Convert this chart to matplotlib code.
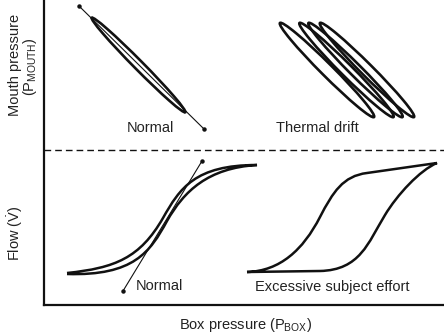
import matplotlib

matplotlib.use("Agg")
import matplotlib.pyplot as plt
from matplotlib.patches import Ellipse, PathPatch
from matplotlib.path import Path

plt.rcParams["font.family"] = ["Liberation Sans", "DejaVu Sans"]
plt.rcParams["mathtext.fontset"] = "custom"
plt.rcParams["mathtext.rm"] = "Liberation Sans"
plt.rcParams["mathtext.it"] = "Liberation Sans:italic"

INK = "#111111"
TEXT = "#222222"

# --- pressure loops (upper half): ellipse centre, length, width, angle
normal_p_centre = (94.5, 240)
normal_p_size = (133, 9)
normal_p_angle = -45.3
normal_p_line_x = [35, 160]
normal_p_line_y = [299, 176]

drift_centre_x = [283, 302.5, 311.5, 323]
drift_centre_y = 235
drift_size = (133, 12)
drift_angle = -45

# --- flow loops (lower half): cubic bezier vertices (x, y)
normal_flow_xy = [
    (23, 32),
    (71, 37), (96, 47), (119, 87),
    (136, 117), (151, 140), (213, 140),
    (164, 137), (140, 114), (123, 84),
    (106, 53), (90, 29), (23, 31),
]
normal_flow_codes = [Path.MOVETO] + [Path.CURVE4] * 12
normal_flow_line_x = [79, 158]
normal_flow_line_y = [14, 144]

effort_flow_xy = [
    (203, 33),
    (236, 34), (259, 55), (276, 88),
    (289, 113), (299, 129), (323, 132),
    (393, 142),
    (376, 135), (353, 110), (341, 90),
    (324, 62), (316, 35), (276, 34),
    (203, 33),
]
effort_flow_codes = ([Path.MOVETO] + [Path.CURVE4] * 6 + [Path.LINETO]
                     + [Path.CURVE4] * 6 + [Path.LINETO])

divider_y = 155

fig = plt.figure(figsize=(4.44, 3.34), dpi=100)
ax = fig.add_axes([44 / 444, 29 / 334, 400 / 444, 305 / 334])
ax.set_xlim(0, 400)
ax.set_ylim(0, 305)
ax.set_xticks([])
ax.set_yticks([])
for side in ("top", "right"):
    ax.spines[side].set_visible(False)
for side in ("left", "bottom"):
    ax.spines[side].set_linewidth(1.6)
    ax.spines[side].set_color(INK)

# upper half: mouth pressure vs box pressure
ax.add_patch(Ellipse(normal_p_centre, *normal_p_size, angle=normal_p_angle,
                     fill=False, lw=1.9, ec=INK))
ax.plot(normal_p_line_x, normal_p_line_y, color=INK, lw=0.8,
        marker="o", ms=2.2)
for cx in drift_centre_x:
    ax.add_patch(Ellipse((cx, drift_centre_y), *drift_size, angle=drift_angle,
                         fill=False, lw=1.9, ec=INK))

ax.axhline(divider_y, color=INK, lw=1.0, dashes=(4.8, 2.9))

# lower half: flow vs box pressure
ax.add_patch(PathPatch(Path(normal_flow_xy, normal_flow_codes), fill=False,
                       lw=1.8, ec=INK, joinstyle="miter"))
ax.plot(normal_flow_line_x, normal_flow_line_y, color=INK, lw=0.8,
        marker="o", ms=2.2)
ax.add_patch(PathPatch(Path(effort_flow_xy, effort_flow_codes), fill=False,
                       lw=1.8, ec=INK, joinstyle="miter"))

# panel labels
lab = dict(fontsize=10.5, color=TEXT, ha="center", va="center")
ax.text(106, 177, "Normal", **lab)
ax.text(273, 177, "Thermal drift", **lab)
ax.text(115, 19, "Normal", **lab)
ax.text(288, 18, "Excessive subject effort", **lab)

# axis titles
ax.text(-29, 240, "Mouth pressure", rotation=90, **lab)
ax.text(-14, 238, r"(P$_{\mathrm{MOUTH}}$)", rotation=90, **lab)
ax.text(-29, 72, r"Flow ($\dot{\mathrm{V}}$)", rotation=90, **lab)
ax.text(201, -20, r"Box pressure (P$_{\mathrm{BOX}}$)", **lab)

fig.savefig("out.png", dpi=100)
